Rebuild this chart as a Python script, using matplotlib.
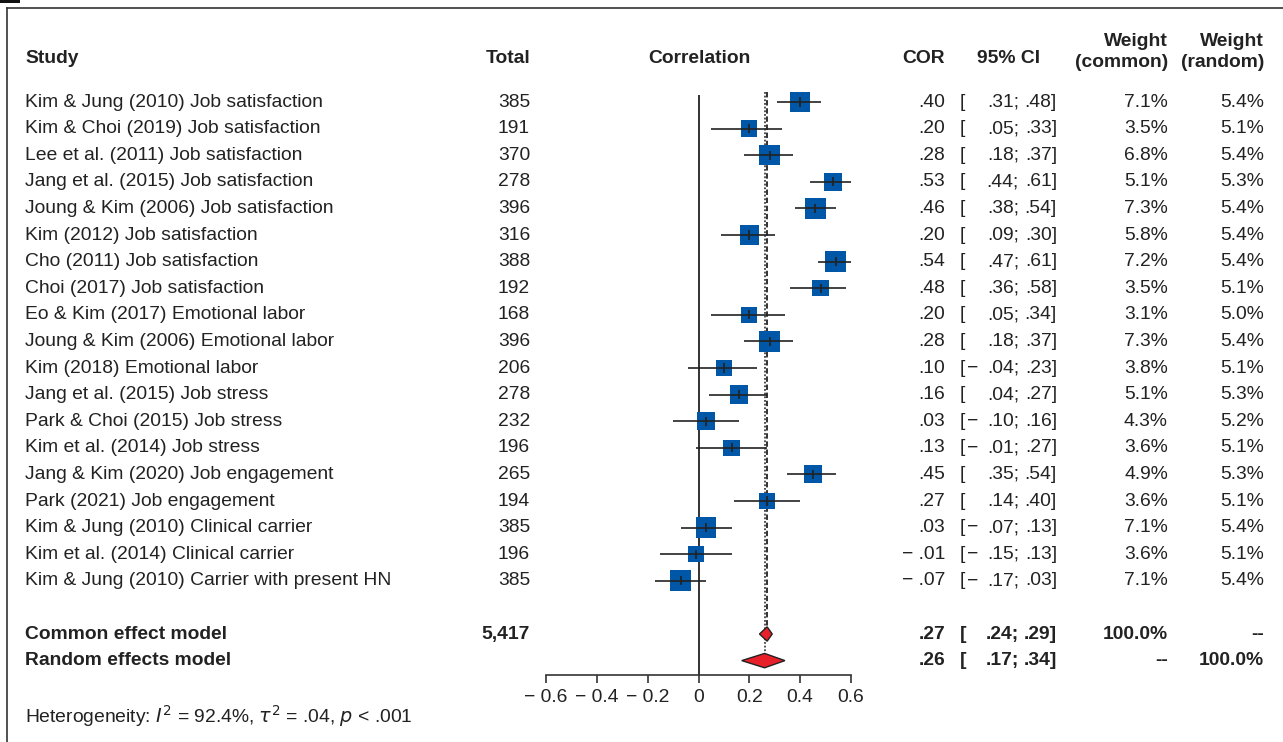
import matplotlib
matplotlib.use("Agg")
import matplotlib.pyplot as plt
import matplotlib.transforms as mtransforms
from matplotlib.lines import Line2D
from matplotlib.patches import Polygon, Rectangle
import numpy as np

plt.rcParams["font.family"] = ["Liberation Sans", "DejaVu Sans"]

studies = [
    "Kim & Jung (2010) Job satisfaction",
    "Kim & Choi (2019) Job satisfaction",
    "Lee et al. (2011) Job satisfaction",
    "Jang et al. (2015) Job satisfaction",
    "Joung & Kim (2006) Job satisfaction",
    "Kim (2012) Job satisfaction",
    "Cho (2011) Job satisfaction",
    "Choi (2017) Job satisfaction",
    "Eo & Kim (2017) Emotional labor",
    "Joung & Kim (2006) Emotional labor",
    "Kim (2018) Emotional labor",
    "Jang et al. (2015) Job stress",
    "Park & Choi (2015) Job stress",
    "Kim et al. (2014) Job stress",
    "Jang & Kim (2020) Job engagement",
    "Park (2021) Job engagement",
    "Kim & Jung (2010) Clinical carrier",
    "Kim et al. (2014) Clinical carrier",
    "Kim & Jung (2010) Carrier with present HN",
]
totals = [385, 191, 370, 278, 396, 316, 388, 192, 168, 396, 206, 278, 232, 196, 265, 194, 385, 196, 385]
cor = [.40, .20, .28, .53, .46, .20, .54, .48, .20, .28, .10, .16, .03, .13, .45, .27, .03, -.01, -.07]
ci_lo = [.31, .05, .18, .44, .38, .09, .47, .36, .05, .18, -.04, .04, -.10, -.01, .35, .14, -.07, -.15, -.17]
ci_hi = [.48, .33, .37, .61, .54, .30, .61, .58, .34, .37, .23, .27, .16, .27, .54, .40, .13, .13, .03]
w_common = [7.1, 3.5, 6.8, 5.1, 7.3, 5.8, 7.2, 3.5, 3.1, 7.3, 3.8, 5.1, 4.3, 3.6, 4.9, 3.6, 7.1, 3.6, 7.1]
w_random = [5.4, 5.1, 5.4, 5.3, 5.4, 5.4, 5.4, 5.1, 5.0, 5.4, 5.1, 5.3, 5.2, 5.1, 5.3, 5.1, 5.4, 5.1, 5.4]

pooled_names = ["Common effect model", "Random effects model"]
pooled_total = "5,417"
pooled_est = [.27, .26]
pooled_lo = [.24, .17]
pooled_hi = [.29, .34]
pooled_wc = ["100.0%", "--"]
pooled_wr = ["--", "100.0%"]

xticks = [-0.6, -0.4, -0.2, 0, 0.2, 0.4, 0.6]

W, H = 1283, 742
fig = plt.figure(figsize=(W / 100, H / 100), dpi=100)
fig.patch.set_facecolor("white")

text_c = "#222222"
fs = 13.9
blue = "#0057A8"
red = "#E8202A"

# axes: x in correlation units, y in rows (row 0 = first study)
ax_bottom_px, ax_top_px = 675, 8
row0_px, row_h = 102, 26.6
ax = fig.add_axes([546 / W, 1 - ax_bottom_px / H, 305 / W, (ax_bottom_px - ax_top_px) / H])
ax.set_xlim(-0.6, 0.6)
ax.set_ylim((ax_bottom_px - row0_px) / row_h, (ax_top_px - row0_px) / row_h)
ax.patch.set_alpha(0)
for s in ["left", "right", "top"]:
    ax.spines[s].set_visible(False)
ax.spines["bottom"].set_color("#333333")
ax.spines["bottom"].set_linewidth(1.2)
ax.set_yticks([])
ax.set_xticks(xticks)
ax.set_xticklabels([("\u2212 " + f"{abs(t):g}") if t < 0 else f"{t:g}" for t in xticks])
ax.tick_params(axis="x", length=6, width=1.2, color="#333333", labelsize=fs,
               labelcolor=text_c, pad=4)

rows = np.arange(len(studies))
common_row, random_row = len(studies) + 1, len(studies) + 2

# reference lines
ax.vlines(0, -0.28, ax.get_ylim()[0], color="#222222", lw=1.3)
ax.vlines(pooled_est[0], -0.38, common_row - 0.3, color="#222222", lw=1.3, linestyles=(0, (3, 1.5)))
ax.vlines(pooled_est[1], -0.38, random_row - 0.3, color="#222222", lw=1.1, linestyles=(0, (1.2, 1.2)))

# study squares and CIs
sizes = [((6 + 5.5 * np.sqrt(w)) * 0.72) ** 2 for w in w_common]
ax.scatter(cor, rows, s=sizes, marker="s", color=blue, zorder=3, linewidths=0)
ax.hlines(rows, ci_lo, ci_hi, color="#222222", lw=1.2, zorder=4)
ax.vlines(cor, rows - 0.17, rows + 0.17, color="#222222", lw=1.2, zorder=4)

# pooled diamonds
for r, est, lo, hi in zip([common_row, random_row], pooled_est, pooled_lo, pooled_hi):
    d = Polygon([[lo, r], [est, r - 0.27], [hi, r], [est, r + 0.27]], closed=True,
                facecolor=red, edgecolor="#222222", lw=1.0, zorder=4)
    ax.add_patch(d)

# text columns
tr = mtransforms.blended_transform_factory(fig.transFigure, ax.transData)


def put(xpx, row, s, ha="left", bold=False, **kw):
    ax.text(xpx / W, row, s, transform=tr, ha=ha, va="center", fontsize=fs,
            color=text_c, fontweight="bold" if bold else "normal", clip_on=False, **kw)


def fmt(v):
    s = f"{abs(v):.2f}"[1:]
    return "\u2212 " + s if v < 0 else s


def put_ci(row, lo, hi, bold=False):
    put(960, row, "[", bold=bold)
    if lo < 0:
        put(967, row, "\u2212", bold=bold)
    put(1019, row, fmt(abs(lo)) + ";", ha="right", bold=bold)
    put(1057, row, fmt(hi) + "]", ha="right", bold=bold)


hdr = -1.65
put(25, hdr, "Study", bold=True)
put(530, hdr, "Total", ha="right", bold=True)
put(699, hdr, "Correlation", ha="center", bold=True)
put(945, hdr, "COR", ha="right", bold=True)
put(1009, hdr, "95% CI", ha="center", bold=True)
put(1168, -2.28, "Weight", ha="right", bold=True)
put(1168, -1.5, "(common)", ha="right", bold=True)
put(1264, -2.28, "Weight", ha="right", bold=True)
put(1264, -1.5, "(random)", ha="right", bold=True)

for i in rows:
    put(25, i, studies[i])
    put(530, i, str(totals[i]), ha="right")
    put(945, i, fmt(cor[i]), ha="right")
    put_ci(i, ci_lo[i], ci_hi[i])
    put(1168, i, f"{w_common[i]:.1f}%", ha="right")
    put(1264, i, f"{w_random[i]:.1f}%", ha="right")

for k, r in enumerate([common_row, random_row]):
    put(25, r, pooled_names[k], bold=True)
    if k == 0:
        put(530, r, pooled_total, ha="right", bold=True)
    put(945, r, fmt(pooled_est[k]), ha="right", bold=True)
    put_ci(r, pooled_lo[k], pooled_hi[k], bold=True)
    put(1168, r, pooled_wc[k], ha="right", bold=True)
    put(1264, r, pooled_wr[k], ha="right", bold=True)

put(25, 23.1, r"Heterogeneity: $\mathit{I}^{2}$ = 92.4%, $\tau^{2}$ = .04, $\mathit{p}$ < .001")

# panel frame
fig.add_artist(Line2D([7 / W, 7 / W], [0, 1 - 8 / H], transform=fig.transFigure, color="#333333", lw=1.2))
fig.add_artist(Line2D([7 / W, 1], [1 - 8 / H, 1 - 8 / H], transform=fig.transFigure, color="#333333", lw=1.2))
fig.add_artist(Rectangle((0, 1 - 3 / H), 20 / W, 3 / H, transform=fig.transFigure,
                         facecolor="#111111", edgecolor="none"))

fig.savefig("out.png", dpi=100)
